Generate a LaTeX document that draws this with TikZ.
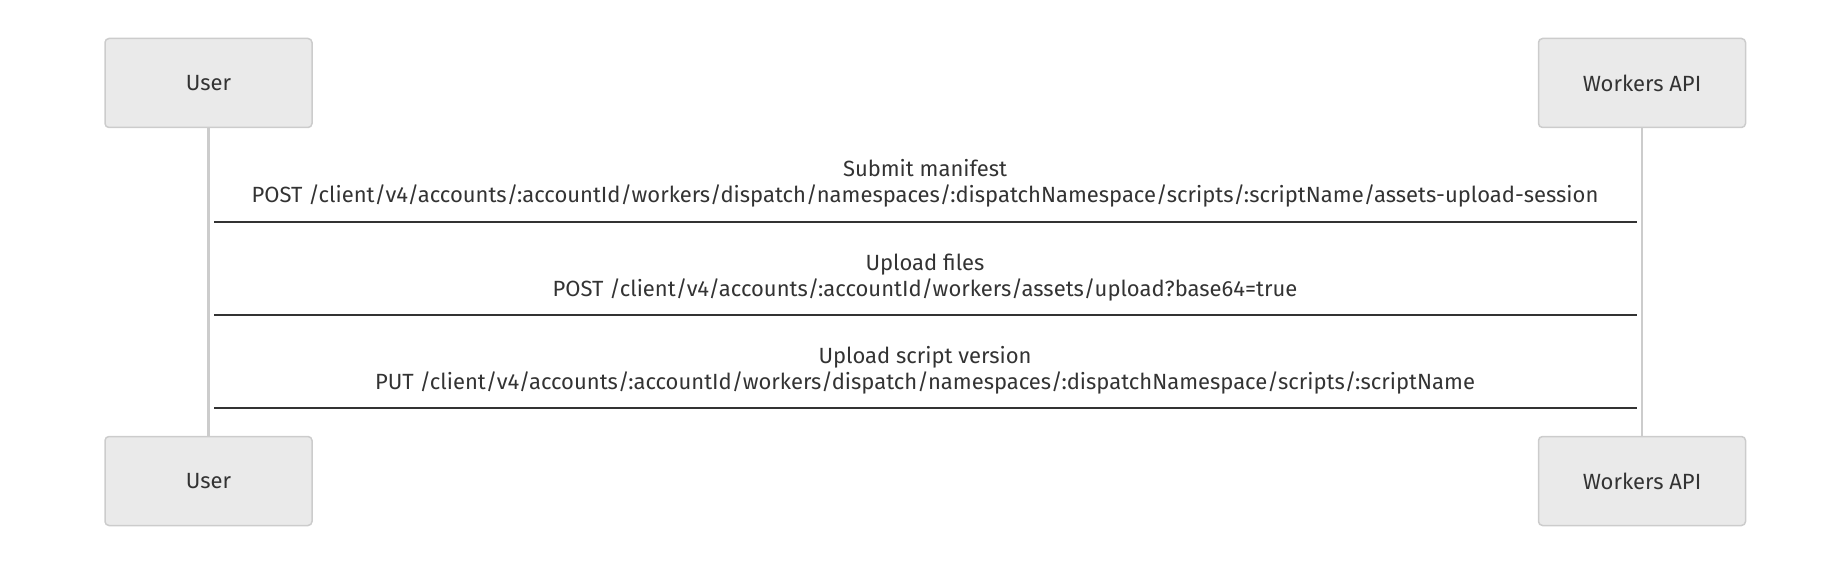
\documentclass[tikz,border=0pt]{standalone}
\usepackage{fontspec}
\setmainfont{Fira Sans}
\definecolor{boxfill}{HTML}{EAEAEA}
\definecolor{boxline}{HTML}{CCCCCC}
\definecolor{lifeline}{HTML}{CCCCCC}
\definecolor{msgline}{HTML}{333333}
\definecolor{txt}{HTML}{333333}
\begin{document}
\begin{tikzpicture}[x=1pt,y=-1pt,
  actor/.style={draw=boxline,fill=boxfill,line width=1.5pt,rounded corners=4pt,
    minimum width=207pt,minimum height=89pt,inner sep=0pt,text=txt,
    font=\fontsize{22}{26}\selectfont},
  life/.style={draw=lifeline,line width=2.5pt},
  msg/.style={draw=msgline,line width=2pt},
  lbl/.style={text=txt,font=\fontsize{22}{26}\selectfont,inner sep=0pt,anchor=base}]
\useasboundingbox (0,0) rectangle (1826,572);
\node[actor] (ut) at (208.5,83) {User};
\node[actor] (wt) at (1642,83) {Workers API};
\node[actor] (ub) at (208.5,481) {User};
\node[actor] (wb) at (1642,481) {Workers API};
\draw[life] (ut.south) -- (ub.north);
\draw[life] (wt.south) -- (wb.north);
\coordinate (a1) at (214,222); \coordinate (b1) at (1637,222);
\coordinate (a2) at (214,315); \coordinate (b2) at (1637,315);
\coordinate (a3) at (214,408); \coordinate (b3) at (1637,408);
\draw[msg] (a1) -- (b1);
\draw[msg] (a2) -- (b2);
\draw[msg] (a3) -- (b3);
\node[lbl] (m1a) at (925,177) {Submit manifest};
\node[lbl] (m1b) at (925,203) {POST /client/v4/accounts/:accountId/workers/dispatch/namespaces/:dispatchNamespace/scripts/:scriptName/assets-upload-session};
\node[lbl] (m2a) at (925,270) {Upload files};
\node[lbl] (m2b) at (925,296) {POST /client/v4/accounts/:accountId/workers/assets/upload?base64=true};
\node[lbl] (m3a) at (925,363) {Upload script version};
\node[lbl] (m3b) at (925,389) {PUT /client/v4/accounts/:accountId/workers/dispatch/namespaces/:dispatchNamespace/scripts/:scriptName};
\end{tikzpicture}
\end{document}
